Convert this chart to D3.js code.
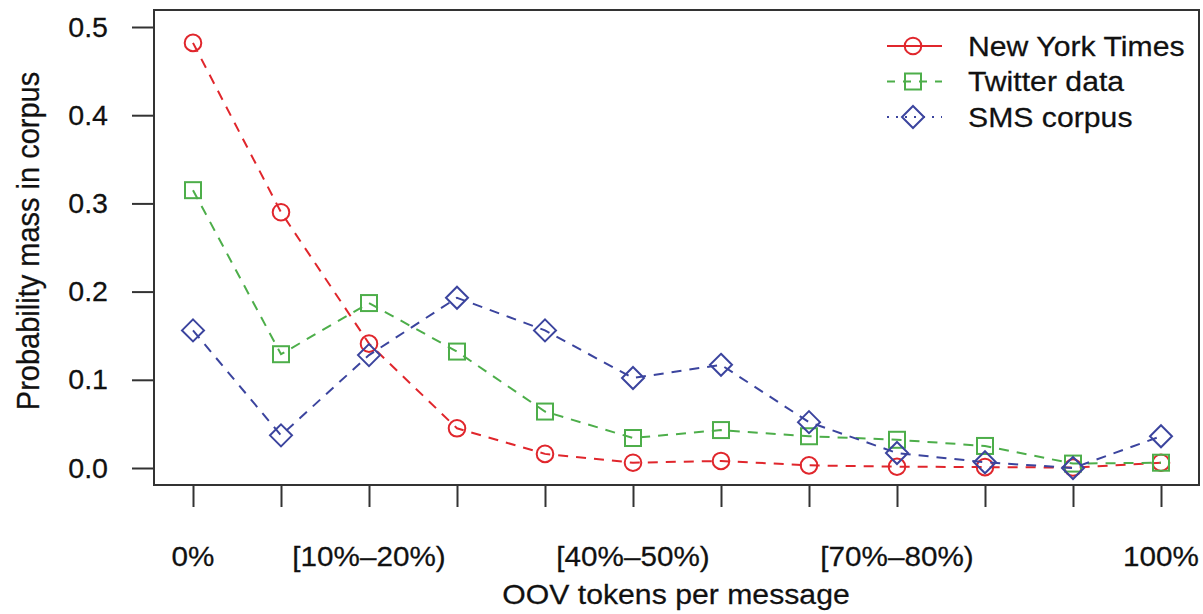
<!DOCTYPE html>
<html>
<head>
<meta charset="utf-8">
<script src="https://cdn.jsdelivr.net/npm/d3@7"></script>
<style>
  body { margin: 0; background: #fff; }
  text { font-family: "Liberation Sans", Arial, Helvetica, sans-serif; fill: #111; stroke: #111; stroke-width: 0.25px; }
</style>
</head>
<body>
<script>
(function() {

    const width = 1203;
    const height = 614;

    // categories along x (only some labels are printed, like R drops overlapping ones)
    const categories = ["0%", "(0%–10%)", "[10%–20%)", "[20%–30%)", "[30%–40%)", "[40%–50%)",
                        "[50%–60%)", "[60%–70%)", "[70%–80%)", "[80%–90%)", "[90%–100%)", "100%"];
    const shownLabels = ["0%", "[10%–20%)", "[40%–50%)", "[70%–80%)", "100%"];
    const yTicks = [0.0, 0.1, 0.2, 0.3, 0.4, 0.5];

    const nytValues = [0.482, 0.290, 0.141, 0.045, 0.016, 0.006, 0.008, 0.003, 0.0015, 0.001, 0.0005, 0.006];
    const twitterValues = [0.315, 0.129, 0.187, 0.132, 0.064, 0.034, 0.043, 0.036, 0.032, 0.025, 0.005, 0.006];
    const smsValues = [0.156, 0.037, 0.128, 0.193, 0.156, 0.102, 0.117, 0.052, 0.017, 0.0065, 0.0, 0.036];

    const seriesNames = ["New York Times", "Twitter data", "SMS corpus"];

    const series = [
        { name: seriesNames[0], values: nytValues, color: "#e0262c", shape: "circle", legendDash: null },
        { name: seriesNames[1], values: twitterValues, color: "#4dae4a", shape: "square", legendDash: "8,8" },
        { name: seriesNames[2], values: smsValues, color: "#3b449e", shape: "diamond", legendDash: "2,7" }
    ];

    // plot box
    const box = { left: 154, top: 10, right: 1199, bottom: 485 };

    const x = d3.scalePoint()
        .domain(d3.range(categories.length))
        .range([193, 1161]);

    const y = d3.scaleLinear()
        .domain([0, 0.5])
        .range([468, 27]);

    const svg = d3.select("body")
        .append("svg")
        .attr("width", width)
        .attr("height", height);

    // text in the picture is a little wider than normal
    const stretch = 1.06;
    function label(g, tx, ty, str, anchor, size) {
        return g.append("text")
            .attr("transform", "translate(" + tx + "," + ty + ") scale(" + stretch + ",1)")
            .attr("text-anchor", anchor)
            .style("font-size", size + "px")
            .text(str);
    }

    // frame
    svg.append("rect")
        .attr("x", box.left)
        .attr("y", box.top)
        .attr("width", box.right - box.left)
        .attr("height", box.bottom - box.top)
        .style("fill", "none")
        .style("stroke", "#333")
        .style("stroke-width", 2);

    // y axis
    const yAxis = svg.append("g")
        .attr("transform", "translate(" + box.left + ",0)")
        .call(d3.axisLeft(y).tickValues(yTicks).tickSize(22).tickFormat(""));
    yAxis.select(".domain").remove();
    yAxis.selectAll(".tick line").style("stroke", "#333").style("stroke-width", 2);

    yTicks.forEach(function(t) {
        label(svg, 108, y(t) + 9.5, d3.format(".1f")(t), "end", 27);
    });

    // x axis
    const xAxis = svg.append("g")
        .attr("transform", "translate(0," + box.bottom + ")")
        .call(d3.axisBottom(x).tickSize(22).tickFormat(""));
    xAxis.select(".domain").remove();
    xAxis.selectAll(".tick line").style("stroke", "#333").style("stroke-width", 2);

    categories.forEach(function(c, i) {
        if (shownLabels.indexOf(c) >= 0) {
            label(svg, x(i), 566, c, "middle", 28);
        }
    });

    // axis titles
    label(svg, 676, 604, "OOV tokens per message", "middle", 28.5);

    svg.append("text")
        .attr("transform", "translate(39,241) rotate(-90) scale(1,1.05)")
        .attr("text-anchor", "middle")
        .style("font-size", "29px")
        .text("Probability mass in corpus");

    // markers
    function drawMarker(g, shape, cx, cy, color) {
        if (shape === "circle") {
            g.append("circle")
                .attr("cx", cx).attr("cy", cy).attr("r", 8.3)
                .style("fill", "none").style("stroke", color).style("stroke-width", 2);
        } else if (shape === "square") {
            g.append("rect")
                .attr("x", cx - 8).attr("y", cy - 8).attr("width", 16).attr("height", 16)
                .style("fill", "none").style("stroke", color).style("stroke-width", 2);
        } else {
            const r = 11;
            g.append("path")
                .attr("d", "M" + cx + "," + (cy - r) + "L" + (cx + r) + "," + cy +
                           "L" + cx + "," + (cy + r) + "L" + (cx - r) + "," + cy + "Z")
                .style("fill", "none").style("stroke", color).style("stroke-width", 2);
        }
    }

    const line = d3.line()
        .x(function(d, i) { return x(i); })
        .y(function(d) { return y(d); });

    series.forEach(function(s) {
        svg.append("path")
            .datum(s.values)
            .attr("d", line)
            .style("fill", "none")
            .style("stroke", s.color)
            .style("stroke-width", 2)
            .style("stroke-dasharray", "10,8");

        const marks = svg.append("g");
        s.values.forEach(function(v, i) {
            drawMarker(marks, s.shape, x(i), y(v), s.color);
        });
    });

    // legend (no box)
    const legend = svg.append("g");
    series.forEach(function(s, i) {
        const ly = 46 + i * 35.5;
        legend.append("line")
            .attr("x1", 887).attr("x2", 942)
            .attr("y1", ly).attr("y2", ly)
            .style("stroke", s.color)
            .style("stroke-width", 2)
            .style("stroke-dasharray", s.legendDash);
        drawMarker(legend, s.shape, 913, ly, s.color);
        label(legend, 968, ly + 9.5, s.name, "start", 28.5);
    });

})();
</script>
</body>
</html>
